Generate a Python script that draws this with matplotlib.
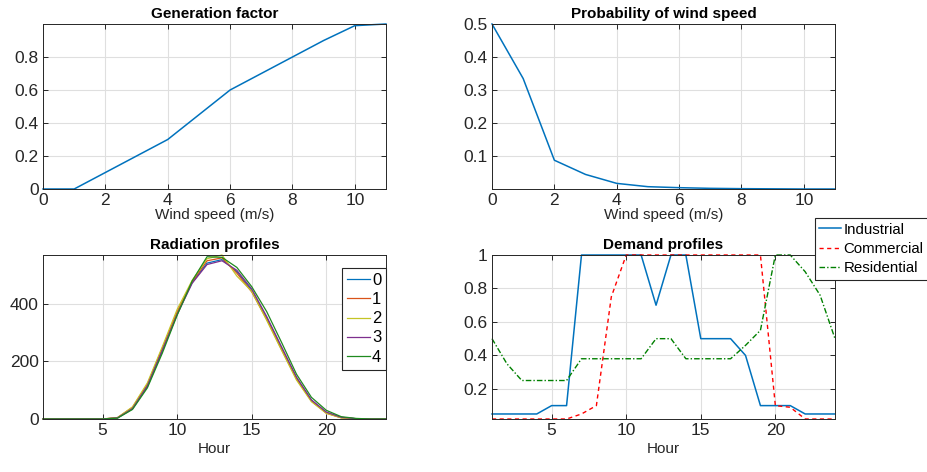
import numpy as np
import matplotlib.pyplot as plt

plt.rcParams['font.family'] = ['Liberation Sans', 'DejaVu Sans']

# wind data
wind_speed = [0, 1, 2, 3, 4, 5, 6, 7, 8, 9, 10, 11]
gen_factor = [0, 0, 0.1, 0.2, 0.3, 0.45, 0.6, 0.7, 0.8, 0.9, 0.99, 1.0]
wind_prob = [0.5, 0.335, 0.088, 0.045, 0.018, 0.008, 0.005, 0.003, 0.002, 0.0015, 0.001, 0.001]

hours = list(range(1, 25))

# radiation profiles (5 scenarios)
rad_labels = ['0', '1', '2', '3', '4']
rad_0 = [0, 0, 0, 0, 0, 4, 35, 112, 235, 365, 472, 540, 552, 510, 445, 350, 245, 142, 65, 22, 5, 1, 0, 0]
rad_1 = [0, 0, 0, 0, 0, 5, 40, 120, 245, 372, 475, 548, 558, 505, 440, 345, 240, 138, 62, 20, 4, 1, 0, 0]
rad_2 = [0, 0, 0, 0, 0, 5, 42, 125, 250, 380, 480, 555, 568, 495, 442, 342, 238, 135, 60, 20, 4, 1, 0, 0]
rad_3 = [0, 0, 0, 0, 0, 4, 36, 115, 238, 362, 470, 535, 548, 515, 450, 355, 250, 145, 66, 24, 6, 1, 0, 0]
rad_4 = [0, 0, 0, 0, 0, 3, 33, 108, 228, 360, 478, 562, 560, 525, 458, 372, 265, 155, 75, 30, 8, 2, 0, 0]
rad_profiles = [rad_0, rad_1, rad_2, rad_3, rad_4]

# demand profiles
industrial = [0.05, 0.05, 0.05, 0.05, 0.1, 0.1, 1, 1, 1, 1, 1, 0.7, 1, 1, 0.5, 0.5, 0.5, 0.4, 0.1, 0.1, 0.1, 0.05, 0.05, 0.05]
commercial = [0.02, 0.02, 0.02, 0.02, 0.02, 0.02, 0.05, 0.1, 0.75, 1, 1, 1, 1, 1, 1, 1, 1, 1, 1, 0.1, 0.09, 0.02, 0.02, 0.02]
residential = [0.5, 0.35, 0.25, 0.25, 0.25, 0.25, 0.38, 0.38, 0.38, 0.38, 0.38, 0.5, 0.5, 0.38, 0.38, 0.38, 0.38, 0.46, 0.55, 1, 1, 0.9, 0.76, 0.5]

blue = '#0072BD'
rad_colors = ['#0072BD', '#D95319', '#C4C425', '#7E2F8E', '#1F8A1F']
axc = '#262626'
tick_fs = 12.5
lab_fs = 11
title_fs = 11

fig = plt.figure(figsize=(9.28, 4.72), dpi=100)
W, H = 928, 472


def make_ax(l, t, r, b):
    ax = fig.add_axes([l / W, 1 - b / H, (r - l) / W, (b - t) / H])
    ax.grid(True, color='#dfdfdf', lw=0.8)
    ax.set_axisbelow(True)
    ax.tick_params(direction='in', top=True, right=True, length=3.5, width=0.7,
                   labelsize=tick_fs, colors=axc, pad=3)
    for s in ax.spines.values():
        s.set_color(axc)
        s.set_linewidth(0.7)
    return ax


# generation factor
ax1 = make_ax(43, 24, 386, 189)
ax1.plot(wind_speed, gen_factor, color=blue, lw=1.1, clip_on=False)
ax1.set_xlim(0, 11)
ax1.set_ylim(0, 1)
ax1.set_yticks([0, 0.2, 0.4, 0.6, 0.8])
ax1.set_yticklabels(['0', '0.2', '0.4', '0.6', '0.8'])
ax1.set_xticks([0, 2, 4, 6, 8, 10])
ax1.set_title('Generation factor', fontsize=title_fs, fontweight='bold', pad=4)
ax1.set_xlabel('Wind speed (m/s)', fontsize=lab_fs, color=axc, labelpad=0)

# probability
ax2 = make_ax(492, 24, 835, 189)
ax2.plot(wind_speed, wind_prob, color=blue, lw=1.1, clip_on=False)
ax2.set_xlim(0, 11)
ax2.set_ylim(0.001, 0.5)
ax2.set_yticks([0.1, 0.2, 0.3, 0.4, 0.5])
ax2.set_xticks([0, 2, 4, 6, 8, 10])
ax2.set_title('Probability of wind speed', fontsize=title_fs, fontweight='bold', pad=4)
ax2.set_xlabel('Wind speed (m/s)', fontsize=lab_fs, color=axc, labelpad=0)

# radiation
ax3 = make_ax(43, 255, 386, 419)
for prof, c, lab in zip(rad_profiles, rad_colors, rad_labels):
    ax3.plot(hours, prof, color=c, lw=0.9, label=lab, clip_on=False)
ax3.set_xlim(1, 24)
ax3.set_ylim(0, 568)
ax3.set_yticks([0, 200, 400])
ax3.set_xticks([5, 10, 15, 20])
ax3.set_title('Radiation profiles', fontsize=title_fs, fontweight='bold', pad=4)
ax3.set_xlabel('Hour', fontsize=lab_fs, color=axc, labelpad=3)
leg3 = ax3.legend(loc='upper left', bbox_to_anchor=(342 / W, 1 - 268 / H),
                  bbox_transform=fig.transFigure, fontsize=12, handlelength=1.4,
                  handletextpad=0.1, borderpad=0.3, labelspacing=0.25,
                  fancybox=False, framealpha=1, borderaxespad=0)
leg3.get_frame().set_edgecolor(axc)
leg3.get_frame().set_linewidth(0.8)

# demand
ax4 = make_ax(492, 255, 835, 419)
ax4.plot(hours, industrial, color=blue, lw=1.1, label='Industrial', clip_on=False)
ax4.plot(hours, commercial, color='red', lw=1.0, ls=(0, (3, 2.5)), label='Commercial', clip_on=False)
ax4.plot(hours, residential, color='#008000', lw=1.0, ls=(0, (4, 1.5, 1, 1.5)),
         label='Residential', clip_on=False)
ax4.set_xlim(1, 24)
ax4.set_ylim(0.02, 1)
ax4.set_yticks([0.2, 0.4, 0.6, 0.8, 1])
ax4.set_yticklabels(['0.2', '0.4', '0.6', '0.8', '1'])
ax4.set_xticks([5, 10, 15, 20])
ax4.set_title('Demand profiles', fontsize=title_fs, fontweight='bold', pad=4)
ax4.set_xlabel('Hour', fontsize=lab_fs, color=axc, labelpad=3)
leg4 = ax4.legend(loc='upper left', bbox_to_anchor=(815 / W, 1 - 218 / H),
                  bbox_transform=fig.transFigure, fontsize=10.8, handlelength=1.45,
                  handletextpad=0.15, borderpad=0.3, labelspacing=0.35,
                  fancybox=False, framealpha=1, borderaxespad=0)
leg4.get_frame().set_edgecolor(axc)
leg4.get_frame().set_linewidth(0.8)

fig.savefig('out.png', dpi=100)
